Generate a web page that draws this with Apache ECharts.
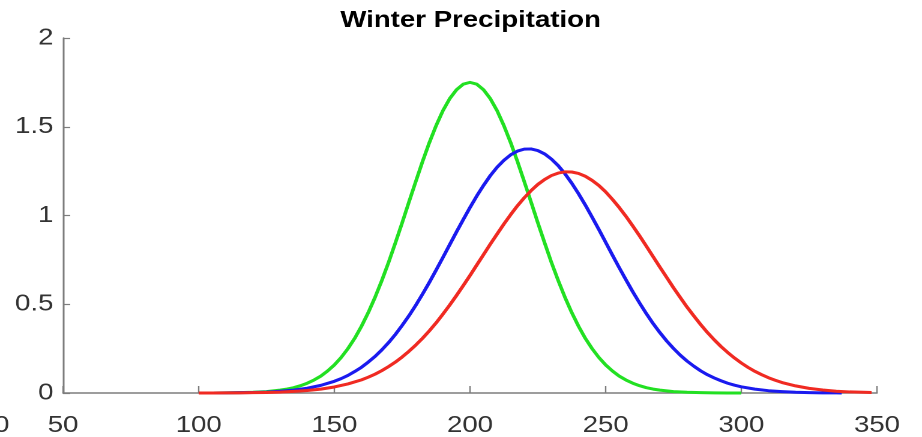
<!DOCTYPE html>
<html>
<head>
<meta charset="utf-8">
<script src="https://cdn.jsdelivr.net/npm/echarts@6/dist/echarts.min.js"></script>
<style>
  html, body { margin: 0; padding: 0; background: #fff; overflow: hidden; }
  /* The figure is drawn on a narrower canvas and stretched horizontally. */
  #chart { width: 768px; height: 437px; transform: scaleX(1.2005); transform-origin: 0 0; }
</style>
</head>
<body>
<div id="chart"></div>
<script>
// Precipitation density curves (x in mm, y in density %)
const xTicks = [50, 100, 150, 200, 250, 300, 350];
const yTicks = [0, 0.5, 1, 1.5, 2];

const greenX = [100,105,110,115,120,125,130,132.5,135,137.5,140,142.5,145,147.5,150,152.5,155,157.5,160,162.5,
                165,167.5,170,172.5,175,177.5,180,182.5,185,187.5,190,192.5,195,197.5,200,202.5,205,207.5,210,212.5,
                215,217.5,220,222.5,225,227.5,230,232.5,235,237.5,240,242.5,245,247.5,250,252.5,255,257.5,260,262.5,
                265,267.5,270,275,280,285,290,295,300];
const greenY = [0.000,0.000,0.001,0.002,0.004,0.008,0.016,0.022,0.030,0.041,0.055,0.073,0.095,0.124,0.158,0.200,0.250,0.308,0.376,0.453,
                0.539,0.634,0.736,0.846,0.959,1.076,1.191,1.304,1.410,1.506,1.590,1.658,1.708,1.740,1.750,1.740,1.708,1.658,1.590,1.506,
                1.410,1.304,1.191,1.076,0.959,0.846,0.736,0.634,0.539,0.453,0.376,0.308,0.250,0.200,0.158,0.124,0.095,0.073,0.055,0.041,
                0.030,0.022,0.016,0.008,0.004,0.002,0.001,0.000,0.000];

const blueX = [100,105,110,115,120,125,130,135,140,145,150,152.5,155,157.5,160,162.5,165,167.5,170,172.5,
               175,177.5,180,182.5,185,187.5,190,192.5,195,197.5,200,202.5,205,207.5,210,212.5,215,217.5,220,222.5,
               225,227.5,230,232.5,235,237.5,240,242.5,245,247.5,250,252.5,255,257.5,260,262.5,265,267.5,270,272.5,
               275,277.5,280,282.5,285,287.5,290,292.5,295,297.5,300,305,310,315,320,325,330,335,337];
const blueY = [0.000,0.000,0.001,0.002,0.003,0.005,0.010,0.016,0.027,0.043,0.066,0.081,0.099,0.121,0.145,0.174,0.206,0.243,0.284,0.330,
               0.381,0.435,0.494,0.557,0.623,0.692,0.763,0.835,0.907,0.977,1.045,1.110,1.170,1.225,1.272,1.311,1.342,1.363,1.374,1.375,
               1.366,1.347,1.318,1.281,1.235,1.182,1.123,1.059,0.991,0.921,0.849,0.777,0.706,0.637,0.570,0.507,0.447,0.391,0.340,0.293,
               0.251,0.213,0.180,0.151,0.125,0.103,0.085,0.069,0.055,0.044,0.035,0.022,0.013,0.008,0.004,0.002,0.001,0.001,0.000];

const redX = [100,105,110,115,120,125,130,135,140,145,150,155,160,162.5,165,167.5,170,172.5,175,177.5,
              180,182.5,185,187.5,190,192.5,195,197.5,200,202.5,205,207.5,210,212.5,215,217.5,220,222.5,225,227.5,
              230,232.5,235,237.5,240,242.5,245,247.5,250,252.5,255,257.5,260,262.5,265,267.5,270,272.5,275,277.5,
              280,282.5,285,287.5,290,292.5,295,297.5,300,302.5,305,307.5,310,312.5,315,320,325,330,335,340,345,348];
const redY = [0.000,0.000,0.001,0.001,0.002,0.003,0.005,0.009,0.014,0.022,0.034,0.051,0.074,0.089,0.106,0.126,0.149,0.174,0.203,0.235,
              0.270,0.308,0.350,0.395,0.444,0.495,0.549,0.605,0.662,0.721,0.780,0.839,0.896,0.952,1.005,1.055,1.100,1.140,1.175,1.203,
              1.225,1.239,1.246,1.245,1.237,1.221,1.198,1.169,1.133,1.091,1.045,0.995,0.941,0.885,0.827,0.768,0.709,0.651,0.593,0.538,
              0.484,0.434,0.386,0.341,0.300,0.262,0.228,0.197,0.169,0.144,0.122,0.103,0.086,0.072,0.059,0.040,0.026,0.017,0.010,0.006,0.004,0.003];

const pairs = (xs, ys) => xs.map((x, i) => [x, ys[i]]);

const FONT = '"Liberation Sans", Arial, Helvetica, sans-serif';
const axisGray = '#7d7d7d';
const labelColor = '#333333';

const chart = echarts.init(document.getElementById('chart'), null, { renderer: 'canvas', devicePixelRatio: 2 });

const lineSeries = (name, color, data) => ({
  name, type: 'line', data, showSymbol: false, smooth: false,
  lineStyle: { color, width: 3, join: 'round', cap: 'butt' }, itemStyle: { color },
  emphasis: { disabled: true }, z: 2
});

chart.setOption({
  animation: false,
  backgroundColor: '#ffffff',
  title: {
    text: 'Winter Precipitation',
    left: 387, top: 4, textAlign: 'center',
    textStyle: { fontFamily: FONT, fontWeight: 'bold', fontSize: 23, color: '#000' }
  },
  grid: { left: 52.5, right: 37.5, top: 38, bottom: 43, containLabel: false },
  xAxis: {
    type: 'value', min: xTicks[0], max: xTicks[xTicks.length - 1], interval: 50,
    axisLine: { lineStyle: { color: axisGray, width: 1.5 } },
    axisTick: { inside: true, length: 7, lineStyle: { color: axisGray, width: 1.2 } },
    axisLabel: { margin: 21, fontFamily: FONT, fontSize: 23, color: labelColor },
    splitLine: { show: false }
  },
  yAxis: {
    type: 'value', min: yTicks[0], max: yTicks[yTicks.length - 1], interval: 0.5,
    axisLine: { show: true, lineStyle: { color: axisGray, width: 1.5 } },
    axisTick: { show: true, inside: true, length: 6, lineStyle: { color: axisGray, width: 1.2 } },
    axisLabel: { margin: 8, fontFamily: FONT, fontSize: 23, color: labelColor },
    splitLine: { show: false }
  },
  graphic: [{
    type: 'text', left: -5, top: 414,
    style: { text: '0', font: '23px ' + FONT, fill: labelColor }
  }],
  series: [
    lineSeries('green', '#22e022', pairs(greenX, greenY)),
    lineSeries('blue', '#1a1aef', pairs(blueX, blueY)),
    lineSeries('red', '#f02a22', pairs(redX, redY))
  ]
});
</script>
</body>
</html>
